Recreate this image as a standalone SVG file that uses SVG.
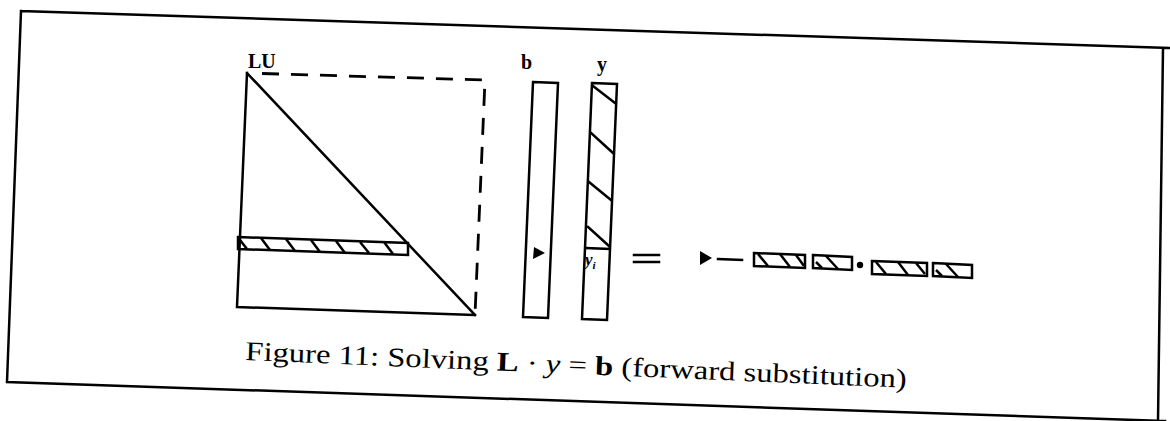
<svg xmlns="http://www.w3.org/2000/svg" width="1170" height="421" viewBox="0 0 1170 421">
<style>
.ln{fill:none;stroke:#000;stroke-width:2.5;stroke-linecap:square}
.th{fill:none;stroke:#000;stroke-width:2.5}
.dash{fill:none;stroke:#000;stroke-width:2.8;stroke-dasharray:17 12}
.lbl{font-family:"Liberation Serif","DejaVu Serif",serif;font-weight:bold;fill:#000}
.cap{font-family:"Liberation Serif","DejaVu Serif",serif;fill:#000}
</style>
<rect width="1170" height="421" fill="#fff"/>
<g id="frame">
<path class="ln" d="M21,11 L1170,48 M21,11 L7,382 L1165,421 M1163,48 L1158,421"/>
</g>
<g id="LU">
<text class="lbl" x="248" y="68" font-size="20">LU</text>
<path class="ln" d="M247,73 L237,307 L475,315 M247,73 L475,315"/>
<path class="dash" d="M262,73.5 L485,80 L475,315"/>
<polygon class="th" points="238,237 408,243 408,255 238,249"/>
<path class="th" stroke-width="3" d="M240,240 L247,249 M261,238 L270,250 M286,239 L295,251 M311,240 L320,252 M336,241 L345,253 M360,242 L369,253 M384,242 L393,254"/>
</g>
<g id="b">
<text class="lbl" x="521" y="69" font-size="20">b</text>
<polygon class="ln" points="533,82 558,83 548,318 523,317"/>
<polygon points="534,247 545,253 533,259" fill="#000"/>
</g>
<g id="y">
<text class="lbl" x="597" y="71" font-size="20">y</text>
<polygon class="ln" points="592,83 617,84 607,320 582,319"/>
<path class="ln" d="M593,86 L615,103 M591,133 L613,153 M589,182 L611,200 M588,227 L609,246 M586,248 L609,249"/>
<text class="cap" x="585" y="265" font-size="17" font-style="italic" font-weight="bold">y<tspan font-size="11" dy="4">i</tspan></text>
</g>
<g id="result">
<path class="ln" stroke-width="3" d="M634,255 L659,255 M634,262 L659,262"/>
<polygon points="700,251 712,258 700,265" fill="#000"/>
<path class="ln" stroke-width="3" d="M718,259 L742,260"/>
<polygon class="ln" points="754,253 805,255 805,268 754,266"/>
<path class="th" stroke-width="3" d="M758,254 L768,266 M780,254 L790,267 M796,255 L804,266"/>
<polygon class="ln" points="813,255 852,257 852,270 813,268"/>
<path class="th" stroke-width="3" d="M816,262 L822,268 M826,256 L838,269"/>
<circle cx="860" cy="265" r="3.2" fill="#000"/>
<polygon class="ln" points="872,261 927,263 927,276 872,274"/>
<path class="th" stroke-width="3" d="M876,262 L886,274 M898,262 L908,275 M916,263 L925,274"/>
<polygon class="ln" points="933,263 972,265 972,278 933,276"/>
<path class="th" stroke-width="3" d="M936,270 L942,276 M946,264 L958,277"/>
</g>
<g id="caption">
<text class="cap" x="245" y="360" font-size="27" textLength="662" lengthAdjust="spacingAndGlyphs" transform="rotate(2.4 245 360)">Figure 11: Solving <tspan font-weight="bold">L</tspan> · <tspan font-style="italic">y</tspan> = <tspan font-weight="bold">b</tspan> (forward substitution)</text>
</g>
</svg>
